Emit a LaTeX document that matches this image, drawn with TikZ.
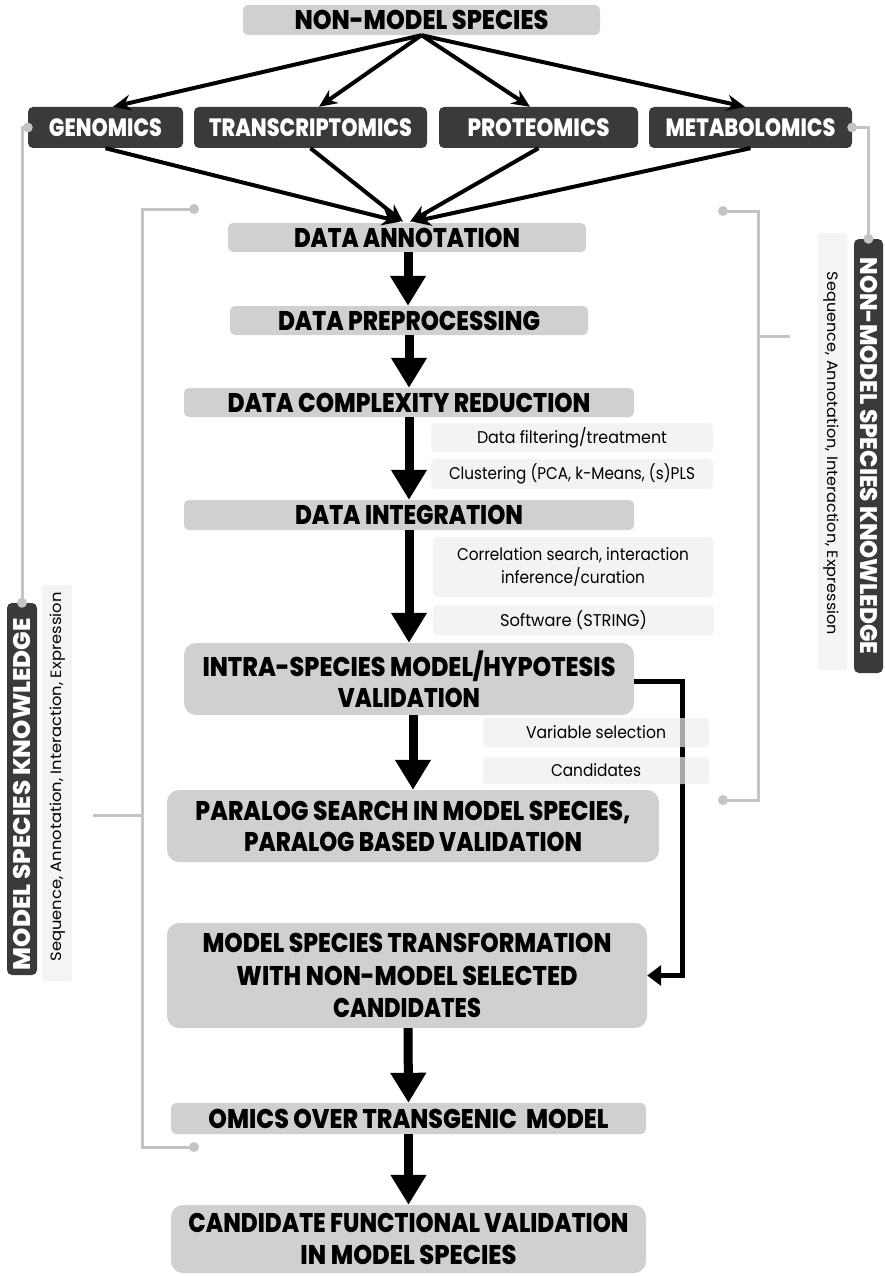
\documentclass[tikz,border=0pt]{standalone}
\usepackage{fontspec}
\usepackage{graphicx}
\setmainfont{Poppins}[BoldFont={Poppins ExtraBold}]
\usetikzlibrary{arrows.meta}
\definecolor{lgrey}{HTML}{D0D0D0}
\definecolor{dgrey}{HTML}{3A3A3A}
\definecolor{tfill}{HTML}{EEEEEE}
\definecolor{cgrey}{HTML}{C4C4C4}
\newcommand{\fitw}[2]{\resizebox{#1pt}{\height}{#2}}
\tikzset{
  lbox/.style={fill=lgrey, rounded corners=5pt, inner sep=0pt, text=black, align=center,
    font=\bfseries\fontsize{27}{31}\selectfont},
  bigbox/.style={lbox, rounded corners=12pt},
  dbox/.style={fill=dgrey, rounded corners=5pt, inner sep=0pt, text=white, align=center,
    font=\bfseries\fontsize{25}{30}\selectfont},
  tbox/.style={fill=tfill, fill opacity=0.7, text opacity=1, rounded corners=4pt, inner sep=0pt,
    text=black, align=center, font=\fontsize{17}{23}\selectfont},
  sidebox/.style={fill=dgrey, rounded corners=5pt, inner sep=0pt},
  sidelight/.style={fill=tfill, fill opacity=0.6, rounded corners=3pt, inner sep=0pt},
  sidetext/.style={inner sep=0pt, text=white, font=\bfseries\fontsize{24}{30}\selectfont},
  seqtext/.style={inner sep=0pt, text=black, font=\fontsize{15}{20}\selectfont},
  thin/.style={line width=4pt, -{Stealth[length=18pt,width=16pt]}},
  bigarrow/.style={line width=9pt, -{Triangle[length=30pt,width=34pt]}},
  bypass/.style={line width=5pt, -{Triangle[length=14pt,width=20pt]}},
  gline/.style={draw=cgrey, line width=3pt},
  gdot/.style={fill=cgrey, circle, inner sep=0pt, minimum size=10pt}
}
\begin{document}
\begin{tikzpicture}[x=1pt,y=-1pt]
\useasboundingbox[fill=white] (0,0) rectangle (885,1276);

% top
\node[lbox, minimum width=357pt, minimum height=30pt] (top) at (421.5,20) {\fitw{254}{NON-MODEL SPECIES}};
\node[dbox, minimum width=155pt, minimum height=41pt] (gen) at (105.5,127.5) {\fitw{113}{GENOMICS}};
\node[dbox, minimum width=233pt, minimum height=41pt] (tra) at (310.5,127.5) {\fitw{203}{TRANSCRIPTOMICS}};
\node[dbox, minimum width=199pt, minimum height=41pt] (pro) at (538.5,127.5) {\fitw{142}{PROTEOMICS}};
\node[dbox, minimum width=203pt, minimum height=41pt] (met) at (750.5,127.5) {\fitw{170}{METABOLOMICS}};

% main column
\node[lbox, minimum width=358pt, minimum height=29pt] (ann) at (407,237.5) {\fitw{226}{DATA ANNOTATION}};
\node[lbox, minimum width=358pt, minimum height=29pt] (pre) at (409,320.5) {\fitw{262}{DATA PREPROCESSING}};
\node[lbox, minimum width=450pt, minimum height=29pt] (cpx) at (409,402.5) {\fitw{363}{DATA COMPLEXITY REDUCTION}};
\node[lbox, minimum width=450pt, minimum height=30pt] (int) at (409,515) {\fitw{228}{DATA INTEGRATION}};
\node[bigbox, minimum width=450pt, minimum height=72pt] (intra) at (409,679) {\fitw{413}{INTRA-SPECIES MODEL/HYPOTESIS}\\\fitw{142}{VALIDATION}};
\node[bigbox, minimum width=492pt, minimum height=72pt] (par) at (413,826) {\fitw{435}{PARALOG SEARCH IN MODEL SPECIES,}\\\fitw{338}{PARALOG BASED VALIDATION}};
\node[bigbox, minimum width=480pt, minimum height=105pt, font=\bfseries\fontsize{27}{32.5}\selectfont] (mst) at (407,975.5) {\fitw{409}{MODEL SPECIES TRANSFORMATION}\\\fitw{341}{WITH NON-MODEL SELECTED}\\\fitw{148}{CANDIDATES}};
\node[lbox, minimum width=475pt, minimum height=31pt] (omics) at (408.5,1118.5) {\fitw{400}{OMICS OVER TRANSGENIC~ MODEL}};
\node[bigbox, minimum width=475pt, minimum height=68pt, font=\bfseries\fontsize{27}{32}\selectfont] (cfv) at (408.5,1239) {\fitw{440}{CANDIDATE FUNCTIONAL VALIDATION}\\\fitw{216}{IN MODEL SPECIES}};

% top arrows
\draw[thin] (top.south) -- ([xshift=7.5pt]gen.north);
\draw[thin] (top.south) -- ([xshift=8.5pt]tra.north);
\draw[thin] (top.south) -- ([xshift=-8.5pt]pro.north);
\draw[thin] (top.south) -- ([xshift=-5.5pt]met.north);
\draw[thin] (gen.south) -- ([xshift=-7pt,yshift=1pt]ann.north);
\draw[thin] (tra.south) -- ([xshift=-4pt,yshift=1pt]ann.north);
\draw[thin] (pro.south) -- ([xshift=3pt,yshift=1pt]ann.north);
\draw[thin] (met.south) -- ([xshift=6pt,yshift=1pt]ann.north);

% big arrows
\draw[bigarrow] ([xshift=1pt]ann.south) -- ([xshift=1pt]ann.south |- pre.north);
\draw[bigarrow] (pre.south) -- (cpx.north);
\draw[bigarrow] (cpx.south) -- (int.north);
\draw[bigarrow] (int.south) -- (intra.north);
\draw[bigarrow] ([xshift=4pt]intra.south) -- (par.north);
\draw[bigarrow] ([xshift=1pt]mst.south) -- (omics.north);
\draw[bigarrow] (omics.south) -- (cfv.north);

% bypass
\draw[bypass] ([yshift=-2pt]intra.east) -- ++(48,0) |- (mst.east);

% annotation boxes
\node[tbox, minimum width=282pt, minimum height=29pt] (filt) at (572,437.5) {\fitw{190}{Data filtering/treatment}};
\node[tbox, minimum width=282pt, minimum height=30pt] (clus) at (572,474) {\fitw{246}{Clustering (PCA, k-Means, (s)PLS}};
\node[tbox, minimum width=280pt, minimum height=60pt] (corr) at (573,567) {\fitw{232}{Correlation search, interaction}\\\fitw{144}{inference/curation}};
\node[tbox, minimum width=281pt, minimum height=30pt] (soft) at (573.5,620) {\fitw{147}{Software (STRING)}};
\node[tbox, minimum width=226pt, minimum height=29pt] (var) at (596,732.5) {\fitw{140}{Variable selection}};
\node[tbox, minimum width=226pt, minimum height=27pt] (cand) at (596,770.5) {\fitw{90}{Candidates}};

% side knowledge boxes
\node[sidelight, minimum width=30pt, minimum height=396pt] (msl) at (57,783) {};
\node[sidebox, minimum width=30pt, minimum height=372pt] (msk) at (22,789) {};
\node[sidetext, rotate=90] (mskt) at (22,794) {\fitw{352}{MODEL SPECIES KNOWLEDGE}};
\node[seqtext, rotate=90] (msq) at (58,777) {\fitw{369}{Sequence, Annotation, Interaction, Expression}};

\node[sidelight, minimum width=29pt, minimum height=437pt] (nml) at (832.5,451.5) {};
\node[sidebox, minimum width=29pt, minimum height=434pt] (nmsk) at (868.5,456) {};
\node[sidetext, rotate=-90] (nmskt) at (868.5,456) {\fitw{397}{NON-MODEL SPECIES KNOWLEDGE}};
\node[seqtext, rotate=-90] (nmsq) at (831,453.5) {\fitw{363}{Sequence, Annotation, Interaction, Expression}};

% grey connectors
\draw[gline] (gen.west) -| (msk.north);
\node[gdot] (d1) at (gen.west) {};
\node[gdot] (d2) at (msk.north) {};
\draw[gline] (met.east) -| (nmsk.north);
\node[gdot] (d3) at (met.east) {};
\node[gdot] (d4) at (nmsk.north) {};

% left bracket
\coordinate (lbt) at (194,209);
\coordinate (lbb) at (194,1147);
\coordinate (lbs) at (93,815);
\draw[gline] (lbt) -- (142,209) -- (142,1147) -- (lbb);
\draw[gline] (lbs) -- (142,815);
\node[gdot] (d5) at (lbt) {};
\node[gdot] (d6) at (lbb) {};

% right bracket
\coordinate (rbt) at (723,211);
\coordinate (rbb) at (723,800);
\coordinate (rbs) at (790,336);
\draw[gline] (rbt) -- (758,211) -- (758,800) -- (rbb);
\draw[gline] (rbs) -- (758,336);
\node[gdot] (d7) at (rbt) {};
\node[gdot] (d8) at (rbb) {};
\end{tikzpicture}
\end{document}
